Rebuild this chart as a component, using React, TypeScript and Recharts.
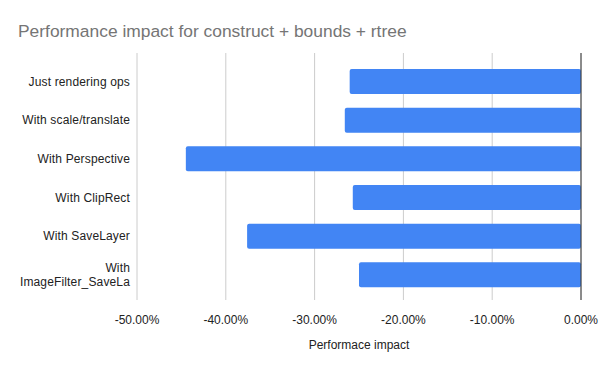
import { BarChart, Bar, XAxis, YAxis, CartesianGrid, ReferenceLine } from 'recharts';

const categories = [
    'Just rendering ops',
    'With scale/translate',
    'With Perspective',
    'With ClipRect',
    'With SaveLayer',
    'With ImageFilter_SaveLa',
];
const impact = [-0.2605, -0.266, -0.445, -0.257, -0.376, -0.25];
const xTicks = [-0.5, -0.4, -0.3, -0.2, -0.1, 0];

const chartData = categories.map((name, i) => ({ name, value: impact[i] }));

const FONT = '"Liberation Sans", Arial, sans-serif';

const fmtPct = (v: number) => `${(v * 100).toFixed(2)}%`;

// long labels wrap onto two lines like the original
function CategoryTick(props: any) {
    const { x, y, payload } = props;
    const label: string = payload.value;
    const lines = label.length > 20 ? [label.slice(0, label.indexOf(' ')), label.slice(label.indexOf(' ') + 1)] : [label];
    const lineH = 14;
    const startY = y - ((lines.length - 1) * lineH) / 2;
    return (
        <text x={x} y={startY} textAnchor="end" fontSize={12} fill="#222" fontFamily={FONT} letterSpacing={0.15}>
            {lines.map((l, i) => (
                <tspan key={i} x={x} y={startY + i * lineH} dy="0.35em">
                    {l}
                </tspan>
            ))}
        </text>
    );
}

export default function App() {
    return (
        <div style={{ position: 'absolute', left: 0, top: 0, width: 600, height: 371, background: '#fff' }}>
            <div
                style={{
                    position: 'absolute',
                    left: 18,
                    top: 21,
                    fontFamily: FONT,
                    fontSize: 17.4,
                    lineHeight: '20px',
                    color: '#757575',
                    whiteSpace: 'nowrap',
                }}
            >
                Performance impact for construct + bounds + rtree
            </div>
            <BarChart
                width={600}
                height={371}
                data={chartData}
                layout="vertical"
                margin={{ top: 53, right: 19, bottom: 0, left: 0 }}
                barSize={25}
            >
                <CartesianGrid horizontal={false} stroke="#cccccc" strokeWidth={1} />
                <XAxis
                    type="number"
                    domain={[-0.5, 0]}
                    ticks={xTicks}
                    tickFormatter={fmtPct}
                    axisLine={false}
                    tickLine={false}
                    tickSize={0}
                    tickMargin={15}
                    height={71}
                    tick={{ fontSize: 12, fill: '#222', fontFamily: FONT }}
                    label={{
                        value: 'Performace impact',
                        position: 'insideBottom',
                        offset: 22,
                        fontSize: 12,
                        fill: '#222',
                        fontFamily: FONT,
                    }}
                />
                <YAxis
                    type="category"
                    dataKey="name"
                    width={137}
                    axisLine={false}
                    tickLine={false}
                    tickSize={0}
                    tickMargin={7}
                    padding={{ top: 9, bottom: 6 }}
                    tick={<CategoryTick />}
                />
                <Bar dataKey="value" fill="#4285f4" radius={2} isAnimationActive={false} />
                <ReferenceLine x={0} stroke="#333333" strokeWidth={1} />
            </BarChart>
        </div>
    );
}
